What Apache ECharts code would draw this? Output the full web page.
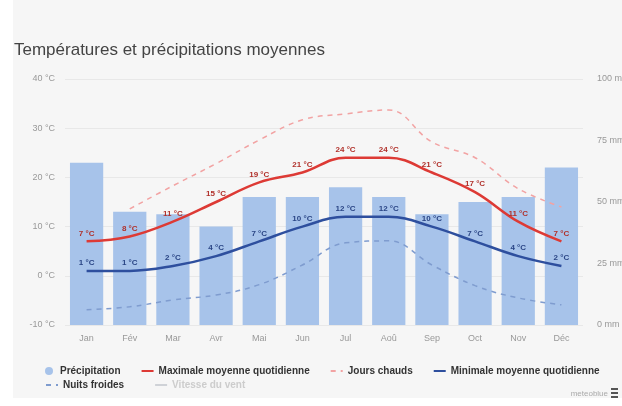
<!DOCTYPE html>
<html><head><meta charset="utf-8">
<script src="https://cdn.jsdelivr.net/npm/echarts@6/dist/echarts.min.js"></script>
<style>
html,body{margin:0;padding:0;background:#fff;}
#bg{position:absolute;left:13px;top:0;width:609px;height:398px;background:#f6f6f6;}
#c{position:absolute;left:0;top:0;width:622px;height:406px;}
</style></head>
<body><div id="bg"></div><div id="c"></div>
<script>
const months = ['Jan','Fév','Mar','Avr','Mai','Jun','Jul','Aoû','Sep','Oct','Nov','Déc'];
const precipitation = [66, 46, 45, 40, 52, 52, 56, 52, 45, 50, 52, 64];
const maxTemp = [7, 8, 11, 15, 19, 21, 24, 24, 21, 17, 11, 7];
const minTemp = [1, 1, 2, 4, 7, 10, 12, 12, 10, 7, 4, 2];
const hotDays = [null, 13.6, 18.3, 22.8, 27.6, 31.7, 32.9, 33.7, 27.2, 24, 17.7, 14];
const coldNights = [-6.9, -6.3, -4.9, -3.9, -1.8, 2.2, 6.7, 7.1, 2.2, -2, -4.5, -5.9];
const tempTicks = {min: -10, max: 40, interval: 10};
const precTicks = {min: 0, max: 100, interval: 25};

const chart = echarts.init(document.getElementById('c'), null, {renderer: 'canvas'});
const lab = (color) => ({show: true, position: 'top', distance: 4, formatter: '{c} °C', color: color, fontSize: 8, fontWeight: 'bold', fontFamily: 'Liberation Sans'});
const noSym = {itemStyle: {opacity: 0}};
chart.setOption({
  animation: false,
  backgroundColor: 'transparent',
  textStyle: {fontFamily: 'Liberation Sans'},
  title: {text: 'Températures et précipitations moyennes', left: 9, top: 37,
    textStyle: {fontSize: 17, fontWeight: 'normal', color: '#444', fontFamily: 'Liberation Sans'}},
  grid: {left: 65, right: 39, top: 79, bottom: 81, containLabel: false, outerBoundsMode: 'none'},
  legend: [
    {left: 40, top: 361, itemWidth: 12, itemHeight: 8, itemGap: 20,
     textStyle: {fontSize: 10, fontWeight: 'bold', color: '#333'},
     data: [{name: 'Précipitation', icon: 'circle'},
            Object.assign({name: 'Maximale moyenne quotidienne'}, noSym),
            Object.assign({name: 'Jours chauds'}, noSym),
            Object.assign({name: 'Minimale moyenne quotidienne'}, noSym)]},
    {left: 40, top: 375, itemWidth: 12, itemHeight: 8, itemGap: 30,
     textStyle: {fontSize: 10, fontWeight: 'bold', color: '#333'}, inactiveColor: '#ccc',
     selected: {'Vitesse du vent': false},
     data: [Object.assign({name: 'Nuits froides'}, noSym), Object.assign({name: 'Vitesse du vent'}, noSym)]}
  ],
  xAxis: {type: 'category', data: months,
    axisLine: {show: false}, axisTick: {show: false},
    axisLabel: {color: '#999', fontSize: 9, margin: 9}},
  yAxis: [
    {type: 'value', min: tempTicks.min, max: tempTicks.max, interval: tempTicks.interval,
     axisLabel: {formatter: '{value} °C', color: '#999', fontSize: 9, margin: 10},
     splitLine: {lineStyle: {color: '#e8e8e8'}}},
    {type: 'value', min: precTicks.min, max: precTicks.max, interval: precTicks.interval,
     axisLabel: {formatter: '{value} mm', color: '#999', fontSize: 9, margin: 14},
     splitLine: {show: false}}
  ],
  series: [
    {name: 'Précipitation', type: 'bar', yAxisIndex: 1, data: precipitation, barCategoryGap: '23%',
     itemStyle: {color: '#a7c3ea'}, z: 1},
    {name: 'Maximale moyenne quotidienne', type: 'line', data: maxTemp, smooth: 0.4, symbol: 'circle', symbolSize: 0,
     lineStyle: {color: '#dd3a35', width: 2.5}, itemStyle: {color: '#dd3a35'}, label: lab('#b0302a'), z: 5},
    {name: 'Jours chauds', type: 'line', data: hotDays, smooth: 0.4, symbol: 'none',
     lineStyle: {color: '#f2a3a3', width: 1.5, type: [5, 5]}, itemStyle: {color: '#f2a3a3'}, z: 3},
    {name: 'Minimale moyenne quotidienne', type: 'line', data: minTemp, smooth: 0.4, symbol: 'circle', symbolSize: 0,
     lineStyle: {color: '#2e4f9e', width: 2.5}, itemStyle: {color: '#2e4f9e'}, label: lab('#2a4585'), z: 5},
    {name: 'Nuits froides', type: 'line', data: coldNights, smooth: 0.4, symbol: 'none',
     lineStyle: {color: '#7f9ccf', width: 1.5, type: [5, 5]}, itemStyle: {color: '#7f9ccf'}, z: 3},
    {name: 'Vitesse du vent', type: 'line', data: [], symbol: 'none',
     lineStyle: {color: '#aaa', width: 1.5}, itemStyle: {color: '#aaa'}}
  ],
  graphic: [
    {type: 'text', right: 14, top: 390, style: {text: 'meteoblue', fill: '#aaa', fontSize: 8, fontFamily: 'Liberation Sans'}},
    {type: 'group', left: 611, top: 388, children: [
      {type: 'rect', shape: {x: 0, y: 0, width: 7, height: 2}, style: {fill: '#555'}},
      {type: 'rect', shape: {x: 0, y: 4, width: 7, height: 2}, style: {fill: '#555'}},
      {type: 'rect', shape: {x: 0, y: 8, width: 7, height: 2}, style: {fill: '#555'}}
    ]}
  ]
});
</script></body></html>
